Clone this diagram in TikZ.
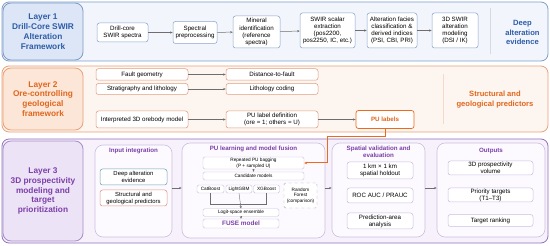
\documentclass[tikz,border=0pt]{standalone}
\usepackage{fontspec}
\setmainfont{Liberation Sans}
\usetikzlibrary{arrows.meta}
\definecolor{bluefill}{HTML}{F2F5FB}
\definecolor{blueline}{HTML}{7E9CC8}
\definecolor{bluetitlefill}{HTML}{DCE6F6}
\definecolor{bluetext}{HTML}{2D5DA8}
\definecolor{boxblue}{HTML}{8AA6CC}
\definecolor{orfill}{HTML}{FDF5EF}
\definecolor{orline}{HTML}{EAA078}
\definecolor{ortitlefill}{HTML}{FCE6D7}
\definecolor{ortext}{HTML}{E0661E}
\definecolor{boxor}{HTML}{E39C7E}
\definecolor{orarrow}{HTML}{EC6A1E}
\definecolor{pufill}{HTML}{F6F1FB}
\definecolor{puline}{HTML}{9070BC}
\definecolor{putitlefill}{HTML}{EDE3F7}
\definecolor{putext}{HTML}{7B3FA9}
\definecolor{subline}{HTML}{CDBFE0}
\definecolor{subfill}{HTML}{FCFAFE}
\definecolor{tealline}{HTML}{6FA3B8}
\definecolor{salmonline}{HTML}{E39484}
\definecolor{arrowgray}{HTML}{6E6E6E}
\definecolor{sepgray}{HTML}{D6DBE3}
\tikzset{
  sz/.style 2 args={minimum width=#1pt, minimum height=#2pt},
  panel/.style={draw, rounded corners=7pt, line width=0.8pt, inner sep=0pt},
  titlebox/.style={draw, rounded corners=8pt, line width=0.8pt, align=center, font=\fontsize{8.3}{9.8}\selectfont\bfseries, inner sep=0pt},
  box/.style={draw, fill=white, rounded corners=2.5pt, line width=0.5pt, align=center, font=\fontsize{6.2}{7.2}\selectfont, inner sep=0.5pt},
  smallbox/.style={draw, fill=white, rounded corners=1.5pt, line width=0.4pt, draw=subline, align=center, font=\fontsize{4.7}{5.6}\selectfont, inner sep=0.3pt},
  subpanel/.style={draw=subline, fill=subfill, rounded corners=8pt, line width=0.6pt, inner sep=0pt},
  subtitle/.style={font=\fontsize{6.2}{7.2}\selectfont\bfseries, text=putext, align=center},
  sidetext/.style={font=\fontsize{7.6}{9.4}\selectfont\bfseries, align=center},
  arr/.style={-{Stealth[length=2.6pt,width=2.2pt]}, draw=arrowgray, line width=0.5pt},
  lnk/.style={draw=arrowgray, line width=0.5pt},
}
\begin{document}
\begin{tikzpicture}[x=1pt,y=-1pt]
\useasboundingbox (0,0) rectangle (550,246);
% ---------------- Layer 1
\node[panel, draw=blueline, fill=bluefill, sz={546}{59}] (L1) at (275,31.5) {};
\node[titlebox, draw=blueline, fill=bluetitlefill, text=bluetext, sz={80}{57}] (T1) at (43,31.5) {Layer 1\\Drill-Core SWIR\\Alteration\\Framework};
\node[box, draw=boxblue, sz={51}{19}] (b1) at (122.5,32.5) {Drill-core\\SWIR spectra};
\node[box, draw=boxblue, sz={44}{22}] (b2) at (195,32.5) {Spectral\\preprocessing};
\node[box, draw=boxblue, sz={47}{32}] (b3) at (256.5,32) {Mineral\\identification\\(reference\\spectra)};
\node[box, draw=boxblue, sz={55}{35}] (b4) at (327.5,30.5) {SWIR scalar\\extraction\\(pos2200,\\pos2250, IC, etc.)};
\node[box, draw=boxblue, sz={50}{35}] (b5) at (392,30.5) {Alteration facies\\classification \&\\derived indices\\(PSI, CBI, PRI)};
\node[box, draw=boxblue, sz={46}{35}] (b6) at (455,30.5) {3D SWIR\\alteration\\modeling\\(DSI / IK)};
\draw[arr] (b1) -- (b2);
\draw[arr] (b2) -- (b3);
\draw[arr] (b3) -- (b4);
\draw[arr] (b4) -- (b5);
\draw[arr] (b5) -- (b6);
\coordinate (s1a) at (490,8);
\coordinate (s1b) at (490,54);
\draw[draw=sepgray, line width=0.5pt] (s1a) -- (s1b);
\node[sidetext, text=bluetext] (D1) at (522.5,32.5) {Deep\\alteration\\evidence};
% ---------------- Layer 2
\node[panel, draw=orline, fill=orfill, sz={546}{66}] (L2) at (275,99) {};
\node[titlebox, draw=orline, fill=ortitlefill, text=ortext, sz={80}{62}] (T2) at (43,99) {Layer 2\\Ore-controlling\\geological\\framework};
\node[box, draw=boxor, sz={92}{11.5}] (fg) at (142,74.5) {Fault geometry};
\node[box, draw=boxor, sz={92}{11}] (sl) at (142,89) {Stratigraphy and lithology};
\node[box, draw=boxor, sz={92}{17}] (io) at (142,119.5) {Interpreted 3D orebody model};
\node[box, draw=boxor, sz={92}{11.5}] (dtf) at (272,74.5) {Distance-to-fault};
\node[box, draw=boxor, sz={92}{11}] (lc) at (272,89) {Lithology coding};
\node[box, draw=boxor, sz={92}{17}] (pud) at (272,119.5) {PU label definition\\(ore = 1; others = U)};
\node[box, draw=orarrow, line width=0.7pt, sz={58}{18}, text=ortext, font=\fontsize{6.2}{7.2}\selectfont\bfseries] (pul) at (385,119.5) {PU labels};
\draw[arr] (fg) -- (dtf);
\draw[arr] (sl) -- (lc);
\draw[arr] (io) -- (pud);
\draw[arr] (pud) -- (pul);
\coordinate (s2a) at (443,74);
\coordinate (s2b) at (443,124);
\draw[draw=orline!40, line width=0.5pt] (s2a) -- (s2b);
\node[sidetext, text=ortext] (D2) at (495,99.5) {Structural and\\geological predictors};
% ---------------- Layer 3
\node[panel, draw=puline, fill=pufill, sz={546}{104}] (L3) at (275,191) {};
\node[titlebox, draw=puline!80, fill=putitlefill, text=putext, sz={80}{100}] (T3) at (43,191) {Layer 3\\3D prospectivity\\modeling and\\target\\prioritization};
% Input integration
\node[subpanel, sz={77}{92}] (IN) at (133.5,191) {};
\node[subtitle] (INt) at (133.5,150.5) {Input integration};
\node[box, draw=tealline, sz={67}{16}, font=\fontsize{5.9}{7}\selectfont] (dae) at (133.5,177) {Deep alteration\\evidence};
\node[box, draw=salmonline, sz={67}{16}, font=\fontsize{5.9}{7}\selectfont] (sgp) at (133.5,198) {Structural and\\geological predictors};
% PU learning
\node[subpanel, sz={143}{95}] (PU) at (253.5,190.5) {};
\node[subtitle] (PUt) at (253.5,148.5) {PU learning and model fusion};
\node[smallbox, sz={101}{12}] (rpb) at (253.5,163) {Repeated PU bagging\\(P + sampled U)};
\node[smallbox, sz={101}{8}] (cm) at (253.5,176) {Candidate models};
\node[smallbox, sz={27}{8}] (cb) at (210.5,189) {CatBoost};
\node[smallbox, sz={26}{8}] (lg) at (239,189) {LightGBM};
\node[smallbox, sz={26}{8}] (xg) at (266.5,189) {XGBoost};
\node[smallbox, dashed, draw=arrowgray!60, sz={33}{25}] (rf) at (300.5,195.5) {Random\\Forest\\(comparison)};
\node[smallbox, sz={76}{7.5}] (lse) at (241,212.5) {Logit-space ensemble};
\node[smallbox, sz={76}{9}, text=putext, font=\fontsize{6.4}{7.4}\selectfont\bfseries] (fuse) at (241,223.5) {FUSE model};
\draw[arr, line width=0.4pt] (rpb) -- (cm);
\draw[lnk, line width=0.4pt] (cb.south) -- ++(0,11) -| (xg.south);
\draw[arr, line width=0.4pt] (lg.south) -- (lse.north);
\draw[arr, line width=0.4pt] (lse) -- (fuse);
% PU labels -> bagging
\coordinate (k1) at (327,137);
\draw[-{Stealth[length=3pt,width=2.6pt]}, draw=orarrow, line width=1pt] (pul.south) |- (k1) |- (rpb.east);
% Spatial validation
\node[subpanel, sz={93}{94}] (SV) at (378.5,190) {};
\node[subtitle] (SVt) at (378.5,152) {Spatial validation and\\evaluation};
\node[box, draw=subline, sz={66}{17}] (sh) at (380,170.5) {1 km × 1 km\\spatial holdout};
\node[box, draw=subline, sz={66}{15}] (roc) at (380,195.5) {ROC AUC / PRAUC};
\node[box, draw=subline, sz={66}{16}] (paa) at (380,221) {Prediction-area\\analysis};
% Outputs
\node[subpanel, sz={108}{94}] (OUT) at (491,190) {};
\node[subtitle] (OUTt) at (491,151) {Outputs};
\node[box, draw=subline, sz={85}{14}] (o1) at (490.5,168) {3D prospectivity\\volume};
\node[box, draw=subline, sz={85}{14}] (o2) at (490.5,195) {Priority targets\\(T1–T3)};
\node[box, draw=subline, sz={85}{12}] (o3) at (490.5,220.5) {Target ranking};
% panel arrows
\draw[arr] (IN.east |- 0,188) -- (PU.west |- 0,188);
\draw[arr] (PU.east |- 0,188) -- (SV.west |- 0,188);
\draw[arr] (SV.east |- 0,188) -- (OUT.west |- 0,188);
\end{tikzpicture}
\end{document}
